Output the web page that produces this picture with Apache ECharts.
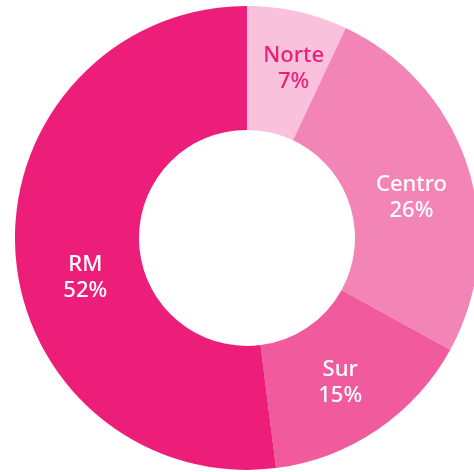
<!DOCTYPE html>
<html>
<head>
<meta charset="utf-8">
<script src="https://cdn.jsdelivr.net/npm/echarts@6/dist/echarts.min.js"></script>
<style>
  html, body { margin: 0; padding: 0; background: #fff; }
  #chart { width: 474px; height: 472px; }
</style>
</head>
<body>
<div id="chart"></div>
<script>
// regiones y porcentajes, en sentido horario desde arriba
const regions = ["Norte", "Centro", "Sur", "RM"];
const shares = [7, 26, 15, 52];

// estilo por sector
const sliceColors = ["#f9c1db", "#f385b6", "#f15a9c", "#ec1e79"];
const labelColors = ["#ec1e79", "#ffffff", "#ffffff", "#ffffff"];
const labelOffsets = [[9, 0], [0, 13], [-4, 2], [11, 29]];

const chart = echarts.init(document.getElementById("chart"));
chart.setOption({
  animation: false,
  series: [
    {
      type: "pie",
      center: ["52.1%", "50.4%"],
      radius: [108, 232],
      startAngle: 90,
      clockwise: true,
      avoidLabelOverlap: false,
      label: {
        show: true,
        position: "inside",
        formatter: "{b}\n{c}%",
        fontFamily: "Noto Sans",
        fontSize: 22,
        fontWeight: 500,
        lineHeight: 26,
        align: "center"
      },
      labelLine: { show: false },
      emphasis: { disabled: true },
      data: regions.map((name, i) => ({
        name: name,
        value: shares[i],
        itemStyle: { color: sliceColors[i] },
        label: { color: labelColors[i], offset: labelOffsets[i] }
      }))
    }
  ]
});
</script>
</body>
</html>
